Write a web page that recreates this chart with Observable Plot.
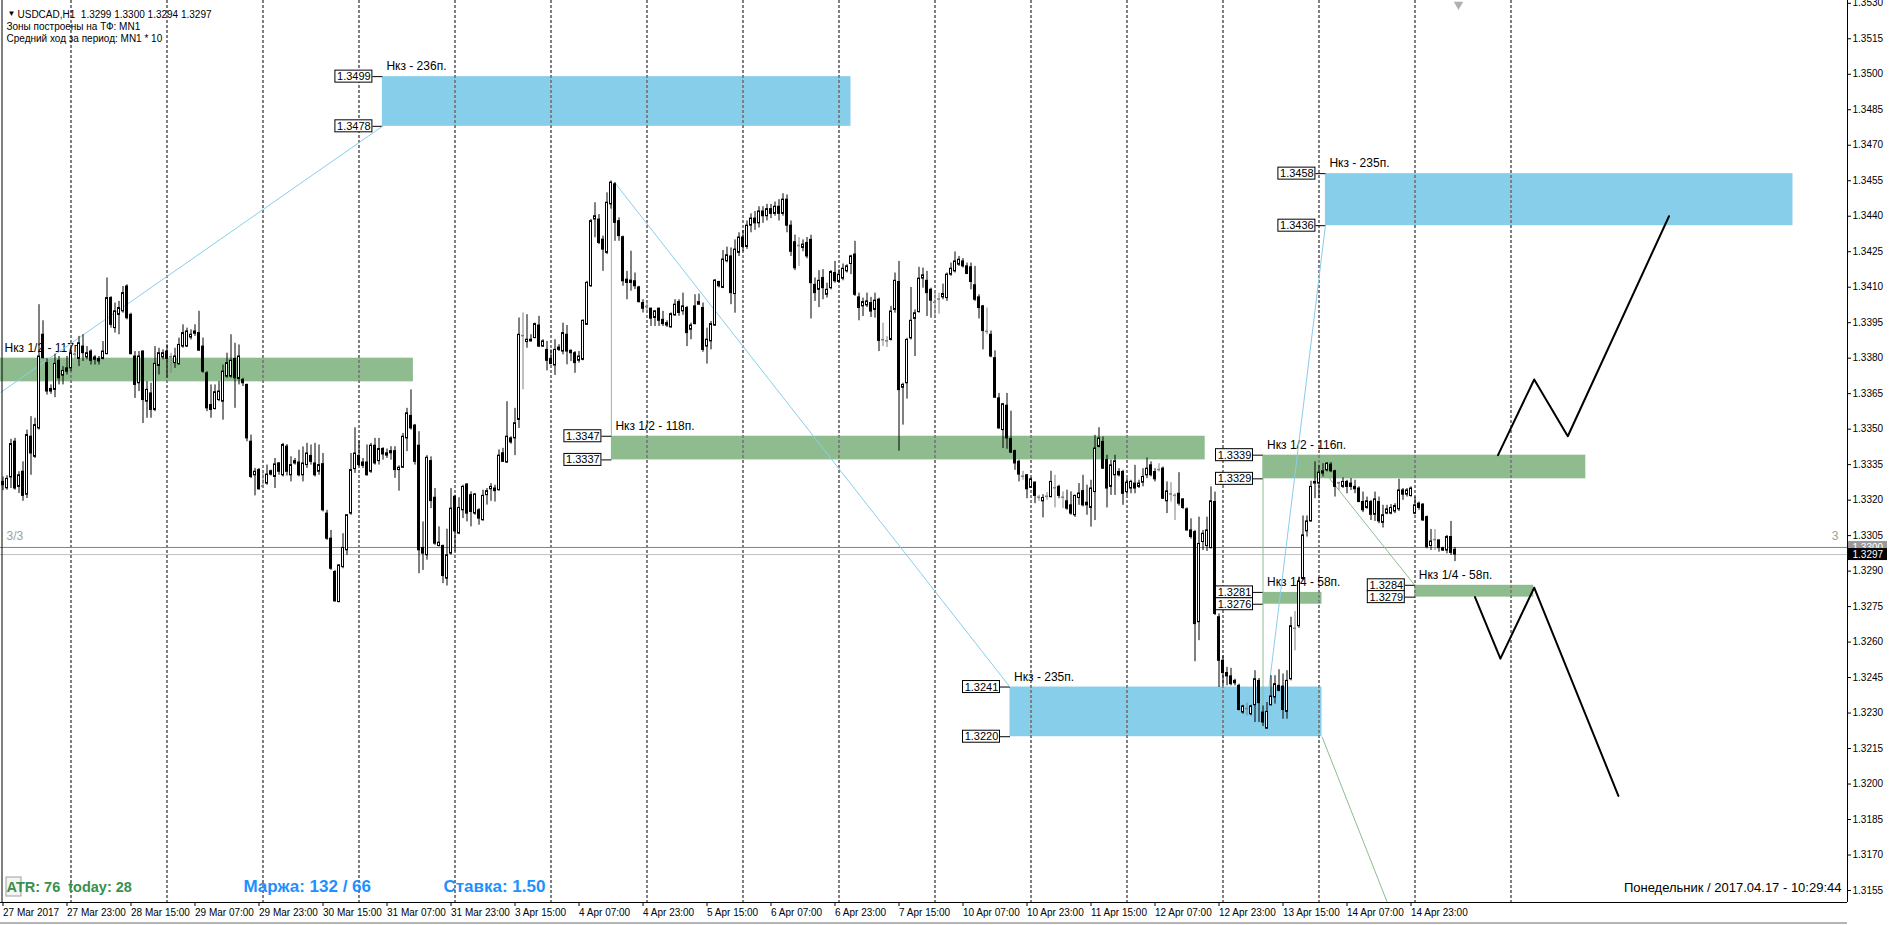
<!DOCTYPE html>
<html><head><meta charset="utf-8">
<script src="https://cdn.jsdelivr.net/npm/d3@7"></script>
<script src="https://cdn.jsdelivr.net/npm/@observablehq/plot@0.6"></script>
<style>body{margin:0;background:#fff;} #chart svg{display:block}</style>
</head><body><div id="chart"></div>
<script>
// Prices are stored in pips above 1.3000 (value/10000 + 1.3000)
const BASE = 1.3;
const openPips = [327.7,325.0,329.6,344.7,325.6,332.0,322.3,346.8,338.3,350.3,389.9,377.9,367.0,366.6,378.9,372.6,375.7,375.7,381.4,379.7,384.9,380.3,382.8,379.3,379.7,379.7,381.7,405.4,392.7,398.3,399.8,410.3,398.3,380.7,369.4,382.8,361.6,365.1,358.1,376.7,380.3,382.8,380.3,377.9,377.4,384.9,384.9,388.7,390.3,390.6,384.9,373.6,360.2,358.5,362.3,361.6,372.2,372.2,379.7,371.2,370.8,368.7,344.7,330.5,332.7,325.6,327.0,332.2,329.8,335.5,330.5,342.6,330.5,335.5,335.9,330.5,334.8,338.7,335.5,332.0,335.2,314.3,303.7,289.6,276.9,291.7,298.8,314.3,333.1,338.7,335.9,335.9,332.0,343.0,336.5,341.6,338.8,340.7,340.7,332.7,333.7,346.1,355.6,351.5,343.0,299.8,296.7,336.5,321.0,300.6,300.6,286.8,297.4,321.4,305.9,315.7,326.6,322.1,314.3,315.7,311.5,322.1,324.6,324.9,324.2,339.8,335.9,346.1,346.1,353.9,389.2,386.8,387.1,388.5,393.8,384.9,383.5,379.7,376.9,383.5,382.8,389.9,383.1,382.1,378.9,379.3,394.1,410.4,438.6,438.6,430.1,424.5,445.0,453.5,437.9,431.1,413.2,411.8,412.5,409.9,403.3,401.5,400.9,397.0,400.9,396.2,393.8,393.0,398.1,403.7,399.8,401.2,392.0,401.9,402.6,401.2,384.9,387.1,393.8,412.2,409.7,421.0,423.0,407.1,424.5,431.0,427.0,436.0,439.0,437.0,442.0,440.0,443.0,441.0,444.0,441.0,447.0,436.0,429.0,427.3,426.6,428.7,430.0,411.0,408.9,413.9,406.8,409.6,416.0,412.2,413.6,416.7,419.8,423.8,405.7,401.9,402.3,403.3,400.4,404.7,387.5,387.0,387.7,400.4,412.2,367.5,369.4,388.4,396.6,399.5,413.6,412.7,408.9,403.3,404.7,405.7,405.4,415.3,416.7,419.5,420.9,418.8,418.4,410.8,405.7,401.9,391.0,389.9,380.0,363.0,349.6,359.9,345.8,340.7,336.2,329.8,330.5,325.2,327.4,320.9,319.5,321.3,321.3,324.9,325.6,320.9,319.5,317.8,313.6,320.9,323.8,318.9,316.7,323.4,342.5,344.6,336.9,325.6,330.5,331.9,331.9,323.4,324.9,327.0,325.6,327.4,330.5,334.7,331.9,332.6,333.3,319.5,322.3,321.7,322.7,320.3,316.1,307.2,306.5,268.4,302.3,300.6,299.7,319.2,270.5,252.1,246.9,245.5,243.6,241.5,230.2,231.6,229.5,233.3,243.6,230.2,223.4,233.3,236.6,241.5,241.2,230.5,244.3,265.5,266.7,286.7,306.8,311.0,327.0,327.0,331.2,332.6,335.0,332.2,327.0,325.6,327.7,327.0,325.6,324.9,319.2,316.7,319.2,313.8,319.2,310.4,314.3,314.3,315.2,316.1,324.1,322.3,321.7,314.3,318.5,318.1,312.8,300.6,303.0,303.0,299.7,298.7,304.4,299.0];
const highPips = [329.8,330.3,345.7,346.1,332.0,336.2,349.6,355.3,354.6,402.6,395.8,379.7,368.7,381.7,380.7,376.4,380.7,384.2,383.5,389.2,389.9,384.9,383.5,381.1,380.7,387.0,413.9,406.0,403.3,404.0,410.3,411.0,399.0,382.8,382.8,383.1,370.1,369.4,384.9,384.2,383.5,385.6,382.1,384.2,388.5,394.1,392.7,392.0,394.1,399.8,388.5,374.3,368.7,368.7,370.1,377.1,382.1,389.9,386.3,385.6,371.5,369.0,347.5,333.4,333.4,332.0,334.8,332.7,337.6,335.9,344.0,343.5,338.3,337.6,341.1,342.5,344.0,343.3,344.0,343.3,339.7,315.7,307.2,290.3,292.7,305.8,313.9,339.7,350.6,345.0,337.6,343.3,344.0,346.1,346.1,342.2,341.6,342.6,342.6,334.5,348.2,358.8,366.6,352.0,348.9,310.8,338.8,338.3,324.9,308.7,301.0,307.7,324.9,322.1,321.0,326.3,327.0,323.5,322.8,316.4,324.2,324.9,327.0,326.3,341.2,341.9,361.6,346.8,358.8,397.0,399.1,398.4,389.9,394.8,397.7,387.8,387.1,383.5,387.8,385.7,394.8,393.8,383.5,382.8,382.8,396.2,412.5,438.6,445.7,440.7,431.6,449.9,454.9,454.2,439.3,431.6,416.7,425.2,416.0,410.4,404.7,403.3,401.2,400.1,401.2,399.8,395.8,399.1,404.7,404.7,407.5,401.9,394.8,406.8,407.1,403.3,392.7,395.5,413.2,412.5,425.5,426.9,426.6,430.0,433.0,434.0,438.0,441.0,442.0,444.0,444.0,445.0,445.0,446.0,447.0,449.5,449.0,438.0,432.0,431.0,430.0,431.0,432.0,413.9,417.0,417.4,411.7,417.0,420.9,417.4,419.8,419.5,423.5,429.4,407.5,405.4,407.5,405.7,407.5,405.4,394.8,389.1,401.9,416.0,420.9,369.4,388.4,409.9,400.4,418.4,418.1,416.7,409.6,408.2,407.5,411.3,416.0,420.2,424.9,423.0,422.1,420.2,420.2,418.8,406.8,402.3,401.2,391.5,383.1,365.1,360.9,365.1,357.6,341.1,336.9,332.2,330.8,329.4,327.7,322.1,322.3,323.2,332.2,330.5,326.3,323.5,324.2,323.5,322.1,327.0,330.5,326.3,328.4,347.4,350.6,346.7,339.0,336.9,339.0,333.3,332.6,329.1,328.4,334.7,328.4,333.3,337.8,336.2,333.3,335.4,334.0,327.7,327.4,322.7,331.6,320.6,316.7,312.1,307.2,312.8,307.2,312.8,325.6,323.4,271.9,254.2,249.3,248.9,244.3,242.2,233.3,234.2,233.3,247.9,244.6,233.0,234.5,245.8,245.8,248.3,246.5,247.9,270.5,272.9,287.4,313.3,313.3,328.0,336.2,334.7,335.4,335.9,335.9,332.6,327.7,329.4,328.4,329.1,328.4,325.6,323.4,321.3,319.9,323.4,321.3,317.8,317.8,318.1,318.5,328.8,324.9,324.9,325.6,321.3,319.2,318.5,313.3,307.6,307.6,303.0,300.1,305.1,311.0,300.0];
const lowPips = [324.0,324.2,324.9,324.2,322.8,319.5,320.7,330.5,337.6,349.6,379.7,364.4,364.7,363.3,368.7,368.7,372.9,374.3,379.7,376.4,378.6,379.3,377.1,377.1,377.1,379.3,381.4,392.7,390.6,389.9,399.0,396.2,381.4,363.0,365.9,352.4,354.6,354.6,357.4,372.9,379.3,371.5,373.6,375.7,377.1,384.2,384.5,387.7,389.2,382.8,373.6,357.4,354.6,358.1,361.6,353.8,371.5,371.5,358.8,368.7,368.0,344.7,329.1,321.8,324.2,324.9,326.3,330.2,324.9,330.5,329.8,330.2,327.7,334.8,329.8,327.7,333.4,334.8,329.8,330.5,315.0,303.0,290.3,276.9,276.6,291.0,296.6,313.6,331.3,334.1,333.4,330.2,331.3,334.8,334.8,336.9,337.6,336.9,329.2,323.8,333.4,340.5,349.6,334.8,288.9,290.3,294.6,316.4,300.9,300.2,284.7,283.7,296.7,298.1,305.4,312.2,310.8,308.7,313.6,309.4,311.1,317.9,319.5,319.2,323.8,335.9,335.5,343.6,338.8,350.3,366.6,384.2,386.8,388.2,384.5,384.5,374.6,377.2,372.7,382.8,381.4,377.2,378.6,373.6,377.9,378.9,393.8,409.9,430.9,428.0,416.7,423.8,443.0,429.4,429.4,410.4,404.7,408.3,409.0,403.3,399.1,399.5,393.4,393.4,393.4,393.4,393.0,392.7,397.7,397.7,398.1,384.9,387.8,394.1,402.3,382.5,377.5,383.5,393.4,409.7,409.4,420.3,402.6,399.0,423.0,425.0,426.0,433.0,434.0,435.0,437.0,438.0,439.0,440.0,438.0,440.0,433.0,423.0,417.0,418.8,425.0,422.0,396.6,404.0,401.4,404.7,405.4,408.9,411.7,411.7,412.7,416.0,415.3,406.1,395.8,397.6,401.4,397.2,396.9,382.8,384.9,384.5,387.3,399.0,340.7,351.7,362.7,387.7,380.7,399.0,409.6,397.6,396.9,397.6,398.6,404.7,404.0,414.6,416.0,418.8,418.1,415.3,408.9,404.0,396.6,383.5,389.9,380.2,363.0,350.0,341.8,341.5,339.7,332.6,327.7,328.4,320.6,324.9,318.5,319.5,312.5,319.9,320.9,316.7,320.6,316.4,315.7,313.6,312.7,317.8,317.1,313.6,308.6,311.4,342.1,333.0,316.7,322.0,322.0,329.8,317.8,322.0,322.7,322.7,324.9,325.6,329.1,329.8,327.7,331.9,320.3,314.3,319.2,311.4,317.5,316.1,306.8,303.5,251.7,260.6,298.7,298.3,299.4,271.2,240.8,241.5,241.5,241.5,241.5,230.9,229.5,228.8,228.8,226.0,226.0,224.3,223.2,233.0,233.8,239.0,227.4,227.4,243.6,256.3,265.8,286.0,304.4,310.7,320.6,320.6,329.8,331.9,331.6,321.3,324.1,324.9,322.7,324.1,322.7,318.9,314.7,316.1,311.4,311.0,310.0,308.2,313.8,313.8,314.3,315.2,319.9,321.3,321.3,313.8,315.7,311.0,299.4,298.7,298.7,298.0,298.3,297.3,296.6,294.0];
const closePips = [326.3,329.0,343.7,324.9,330.5,321.8,347.5,339.7,351.7,380.7,380.0,365.9,365.9,377.6,371.5,374.6,374.3,382.1,381.4,386.3,382.1,382.1,378.9,380.3,378.6,382.8,405.4,394.1,399.8,401.2,407.5,396.9,381.7,368.7,380.7,362.3,366.6,358.1,377.6,382.1,382.1,379.7,380.3,380.7,385.6,390.6,391.3,389.9,391.3,383.2,374.3,358.8,358.1,365.6,365.9,374.3,377.9,378.9,371.5,380.7,369.4,346.1,329.8,332.0,324.6,325.6,330.8,330.8,335.1,332.0,343.3,332.0,334.8,336.5,330.5,335.5,339.7,336.2,330.5,334.8,315.7,303.7,291.0,277.2,292.4,299.8,313.6,332.7,339.7,334.8,334.5,330.5,343.0,335.5,341.6,339.3,339.8,339.8,332.7,333.7,346.8,356.7,350.3,336.2,298.8,297.4,337.9,319.6,301.6,302.0,287.9,296.7,316.4,306.8,316.7,325.6,314.3,315.0,322.4,312.2,321.8,323.8,325.6,323.8,338.8,336.2,346.8,344.4,352.5,389.9,389.2,387.8,387.8,394.4,384.9,387.1,378.9,377.5,383.5,384.5,390.6,382.8,382.1,377.9,380.7,395.8,411.8,437.9,440.0,428.7,425.9,445.7,454.2,437.2,431.6,412.5,411.8,412.8,410.4,403.7,400.9,401.5,396.7,399.8,395.8,394.4,394.8,398.6,402.6,399.1,401.9,390.6,393.8,394.4,403.7,383.5,387.8,394.4,412.8,410.4,421.7,423.5,407.5,425.9,431.0,427.0,436.0,439.0,437.0,442.0,440.0,443.0,441.0,444.0,441.0,447.0,436.0,425.0,418.0,427.3,428.0,423.0,411.7,407.5,412.7,409.6,408.9,416.4,412.5,415.3,417.8,418.8,423.0,406.8,401.2,403.7,404.0,399.7,404.3,387.3,387.5,387.0,399.7,412.7,366.5,368.7,387.7,395.8,399.0,413.6,415.0,407.5,404.3,403.3,404.7,407.1,415.3,417.8,420.9,421.6,418.8,415.6,412.2,404.7,401.2,391.5,391.0,380.7,363.3,350.3,360.5,346.1,340.1,335.5,330.8,329.8,324.6,328.8,321.8,320.9,320.9,321.3,327.7,324.9,321.8,320.9,316.4,314.3,321.8,322.8,317.8,317.8,324.9,341.8,346.0,333.3,324.9,334.7,336.4,330.5,322.7,327.4,327.7,324.9,327.0,329.8,333.3,330.5,328.8,332.6,320.6,323.7,322.3,321.7,318.5,316.7,307.2,304.4,267.6,301.5,305.8,307.2,319.5,271.9,252.1,246.9,245.5,242.2,242.6,231.3,232.8,231.6,232.8,244.3,234.2,226.0,230.5,237.0,242.2,239.4,231.3,243.6,266.7,265.5,285.6,305.1,311.0,325.6,327.7,331.6,332.2,335.4,332.2,325.6,327.0,327.7,325.6,325.6,324.6,319.2,315.7,319.5,313.8,320.3,311.0,313.6,316.1,316.7,317.5,324.1,322.3,324.1,324.9,317.8,316.7,311.4,300.1,302.5,303.0,299.7,298.7,304.4,297.7,297.0];

// Axis ticks
const priceTicks = [1.3155,1.3170,1.3185,1.3200,1.3215,1.3230,1.3245,1.3260,1.3275,1.3290,1.3305,1.3320,1.3335,1.3350,1.3365,1.3380,1.3395,1.3410,1.3425,1.3440,1.3455,1.3470,1.3485,1.3500,1.3515,1.3530];
const timeTickBars = [0,16,32,48,64,80,96,112,128,144,160,176,192,208,224,240,256,272,288,304,320,336,352];
const timeTickLabels = ["27 Mar 2017","27 Mar 23:00","28 Mar 15:00","29 Mar 07:00","29 Mar 23:00","30 Mar 15:00","31 Mar 07:00","31 Mar 23:00","3 Apr 15:00","4 Apr 07:00","4 Apr 23:00","5 Apr 15:00","6 Apr 07:00","6 Apr 23:00","7 Apr 15:00","10 Apr 07:00","10 Apr 23:00","11 Apr 15:00","12 Apr 07:00","12 Apr 23:00","13 Apr 15:00","14 Apr 07:00","14 Apr 23:00"];
const dayStartBars = [17,41,65,89,113,137,161,185,209,233,257,281,305,329,353,377];

// Zones (bar index from/to, price lo/hi)
const zoneNames = ["Нкз 1/2 - 117п.","Нкз - 236п.","Нкз 1/2 - 118п.","Нкз - 235п.","Нкз 1/2 - 116п.","Нкз 1/4 - 58п.","Нкз - 235п.","Нкз 1/4 - 58п."];
const zoneFrom = [-20, 94.85, 152.1, 251.75, 315, 315, 330.6, 352.95];
const zoneTo = [102.6, 212, 300.55, 329.75, 395.7, 329.75, 447.5, 382.7];
const zoneLo = [1.3370, 1.3478, 1.3337, 1.3220, 1.3329, 1.3276, 1.3436, 1.3279];
const zoneHi = [1.3380, 1.3499, 1.3347, 1.3241, 1.3339, 1.3281, 1.3458, 1.3284];
const zoneKind = ["green","blue","green","blue","green","green","blue","green"];
const zoneHasLabels = [false,true,true,true,true,true,true,true];

// thin connector lines
const connectors = [
  {kind:"blue", pts:[[-0.6,1.33655],[94.85,1.3478]]},
  {kind:"blue", pts:[[152.8,1.34545],[251.75,1.3241]]},
  {kind:"green", pts:[[152.1,1.34545],[152.1,1.3347]]},
  {kind:"green", pts:[[329.75,1.3220],[346.3,1.3149]]},
  {kind:"green", pts:[[315,1.3224],[315,1.3339]]},
  {kind:"blue", pts:[[315.2,1.3223],[330.6,1.3436]]},
  {kind:"green", pts:[[330.3,1.3332],[352.95,1.3284]]}
];
// forecast paths
const forecastUp = [[373.75,1.3339],[382.8,1.3371],[391.2,1.3347],[416.5,1.3440]];
const forecastDown = [[368.0,1.3279],[374.35,1.3253],[382.8,1.3283],[403.85,1.3195]];

const bidPrice = 1.3297, askPrice = 1.3300;

// ---- geometry constants
const W = 1889, H = 925, MR = 42, MB = 23;
const X0 = -0.625, X1 = 461.125;       // 4 px per bar
const Y0 = 1.314993, Y1 = 1.353118;    // price range of plot area
const PX = (X1 - X0) / (W - MR);        // bars per pixel
const PY = (Y1 - Y0) / (H - MB);        // price per pixel
const bx = px => X0 + px * PX;           // pixel -> bar
const py = y => Y1 - y * PY;             // pixel -> price

const COL = {green:"#8fbc8f", blue:"#87ceeb"};
const INV = {green:"#704370", blue:"#783114"};

const candles = openPips.map((o, i) => {
  const c = closePips[i];
  const kind = o === c ? "doji" : c > o ? "up" : "down";
  return {
    i, kind,
    open: BASE + o / 1e4,
    close: BASE + c / 1e4 + (o === c ? 0.5 * PY : 0),
    high: BASE + Math.max(highPips[i], o, c) / 1e4,
    low: BASE + Math.min(lowPips[i], o, c) / 1e4
  };
});

const zones = zoneNames.map((name, k) => ({name, from: zoneFrom[k], to: zoneTo[k], lo: zoneLo[k], hi: zoneHi[k], kind: zoneKind[k], labels: zoneHasLabels[k]}));
const boxes = zones.filter(z => z.labels).flatMap(z => [{bar: z.from, price: z.hi}, {bar: z.from, price: z.lo}]);
const connectorSegs = connectors.map(c => ({x1: c.pts[0][0], y1: c.pts[0][1], x2: c.pts[1][0], y2: c.pts[1][1], stroke: COL[c.kind]}));
const labelByBar = new Map(timeTickBars.map((b, k) => [b, timeTickLabels[k]]));

// grid dashes over zones appear with inverted colour (as MT4 draws them)
const zoneGridMarks = zones.map(z => {
  const days = dayStartBars.filter(b => b > z.from && b < z.to);
  const yTop = (Y1 - z.hi) / PY;
  return Plot.ruleX(days, {y1: z.hi, y2: z.lo, stroke: INV[z.kind], strokeDasharray: "3,2", strokeDashoffset: yTop % 5});
});

const font = "Liberation Sans, Arial, sans-serif";

const chart = Plot.plot({
  width: W, height: H,
  marginLeft: 0, marginTop: 0, marginRight: MR, marginBottom: MB,
  x: {type: "linear", domain: [X0, X1], axis: null, label: null},
  y: {type: "linear", domain: [Y0, Y1], axis: null, label: null},
  style: {fontFamily: font, fontSize: "10px", background: "white", overflow: "visible", color: "black"},
  marks: [
    Plot.frame({fill: "white", stroke: null}),
    // grid (midnight of each day)
    Plot.ruleX(dayStartBars, {stroke: "black", strokeDasharray: "3,2", strokeWidth: 1}),
    // zones
    Plot.rect(zones, {x1: "from", x2: "to", y1: "lo", y2: "hi", fill: d => COL[d.kind], clip: true}),
    ...zoneGridMarks,
    // zone captions
    Plot.text(zones, {x: d => Math.max(d.from, X0) + 4 * PX, y: "hi", text: "name", dy: -10, textAnchor: "start", fontSize: 12, fill: "black"}),
    // price label boxes
    Plot.link(boxes, {x1: d => d.bar - 10 * PX, x2: "bar", y1: "price", y2: "price", stroke: "black"}),
    Plot.rect(boxes, {x1: d => d.bar - 47 * PX, x2: d => d.bar - 10 * PX, y1: d => d.price - 6 * PY, y2: d => d.price + 6 * PY, fill: "white", stroke: "black"}),
    Plot.text(boxes, {x: d => d.bar - 28.5 * PX, y: "price", text: d => d.price.toFixed(4), fontSize: 11, fill: "black"}),
    // bid / ask lines
    Plot.ruleY([askPrice], {stroke: "#808080"}),
    Plot.ruleY([bidPrice], {stroke: "#c0c0c0"}),
    // connectors
    Plot.link(connectorSegs, {x1: "x1", y1: "y1", x2: "x2", y2: "y2", stroke: "stroke", strokeWidth: 1, clip: true}),
    // candles
    Plot.ruleX(candles, {x: "i", y1: "low", y2: "high", stroke: d => d.kind === "doji" ? "#808080" : "#000000"}),
    Plot.rect(candles, {x1: d => d.i - 0.25, x2: d => d.i + 0.25, y1: "open", y2: "close",
      fill: d => d.kind === "up" ? "#ffffff" : d.kind === "down" ? "#000000" : "#808080",
      stroke: d => d.kind === "doji" ? "#808080" : "#000000"}),
    // forecast
    Plot.line(forecastUp, {x: d => d[0], y: d => d[1], stroke: "black", strokeWidth: 2, clip: true}),
    Plot.line(forecastDown, {x: d => d[0], y: d => d[1], stroke: "black", strokeWidth: 2, clip: true}),
    // frame lines
    Plot.ruleX([X1], {stroke: "black"}),
    Plot.ruleX([bx(1.5)], {stroke: "black"}),
    Plot.ruleY([Y0], {stroke: "black"}),
    Plot.ruleY([py(922.5)], {stroke: "#6a6a6a"}),
    // axes
    Plot.axisY(priceTicks, {anchor: "right", tickFormat: d => d.toFixed(4), tickSize: 3, tickPadding: 2, fontSize: 10, label: null}),
    Plot.axisX(timeTickBars, {anchor: "bottom", tickFormat: d => labelByBar.get(d), textAnchor: "start", tickSize: 4, tickPadding: 2, fontSize: 10, label: null}),
    // current price tags on the axis
    Plot.rect([askPrice], {x1: bx(1848), x2: bx(1887), y1: d => d - 6 * PY, y2: d => d + 6 * PY, fill: "#9a9a9a"}),
    Plot.text([askPrice], {x: bx(1852), y: d => d, text: d => d.toFixed(4), fill: "white", textAnchor: "start", fontSize: 10}),
    Plot.rect([bidPrice], {x1: bx(1848), x2: bx(1887), y1: d => d - 6 * PY, y2: d => d + 6 * PY, fill: "black"}),
    Plot.text([bidPrice], {x: bx(1852), y: d => d, text: d => d.toFixed(4), fill: "white", textAnchor: "start", fontSize: 10}),
    // header
    Plot.text(["▼"], {frameAnchor: "top-left", dx: 7, dy: 10, fontSize: 8, fill: "black"}),
    Plot.text(["USDCAD,H1  1.3299 1.3300 1.3294 1.3297"], {frameAnchor: "top-left", dx: 17, dy: 10, textAnchor: "start", fontSize: 10, fill: "black"}),
    Plot.text(["Зоны построены на ТФ: MN1"], {frameAnchor: "top-left", dx: 6, dy: 22.5, textAnchor: "start", fontSize: 10, fill: "black"}),
    Plot.text(["Средний ход за период: MN1 * 10"], {frameAnchor: "top-left", dx: 6, dy: 34, textAnchor: "start", fontSize: 10, fill: "black"}),
    // chart shift marker
    Plot.dot([0], {x: bx(1458), y: py(4), symbol: "triangle", rotate: 180, r: 3.5, fill: "#b0b0b0", stroke: null}),
    // side labels
    Plot.text(["3/3"], {x: bx(6), y: py(536), textAnchor: "start", fontSize: 12, fill: "#a0a0a0"}),
    Plot.text(["3"], {x: bx(1838), y: py(536), textAnchor: "end", fontSize: 12, fill: "#a0a0a0"}),
    // bottom info
    Plot.rect([0], {x1: bx(6), x2: bx(21), y1: py(877), y2: py(896), fill: "#f4f4f4", stroke: "#a0a0a0"}),
    Plot.text(["ATR: 76  today: 28"], {frameAnchor: "bottom-left", dx: 6, dy: -11, textAnchor: "start", fontSize: 14.5, fontWeight: "bold", fill: "#3a8f4f"}),
    Plot.text(["Маржа: 132 / 66"], {frameAnchor: "bottom-left", dx: 243, dy: -11, textAnchor: "start", fontSize: 17, fontWeight: "bold", fill: "#1e90ff"}),
    Plot.text(["Ставка: 1.50"], {frameAnchor: "bottom-left", dx: 443, dy: -11, textAnchor: "start", fontSize: 17, fontWeight: "bold", fill: "#1e90ff"}),
    Plot.text(["Понедельник / 2017.04.17 - 10:29:44"], {frameAnchor: "bottom-right", dx: -6, dy: -11, textAnchor: "end", fontSize: 13, fill: "black"})
  ]
});
document.getElementById("chart").appendChild(chart);
</script>
</body></html>
